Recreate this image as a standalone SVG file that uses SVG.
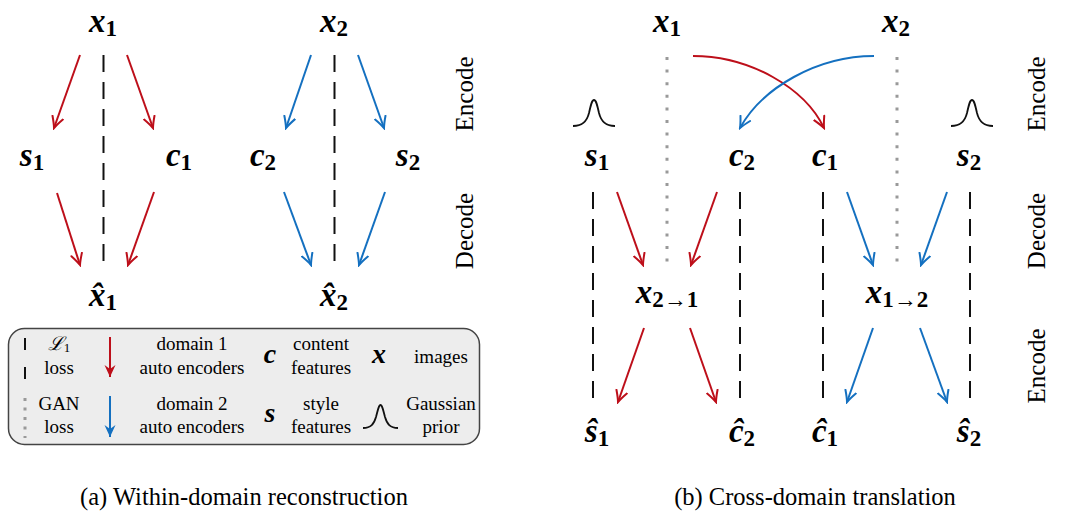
<svg xmlns="http://www.w3.org/2000/svg" width="1065" height="521" viewBox="0 0 1065 521">
<style>
text { font-family: "Liberation Serif", "DejaVu Serif", serif; fill: #000; }
.m { font-style: italic; font-weight: bold; font-size: 33px; text-anchor: middle; }
.sub { font-style: normal; font-size: 23px; }
.lbl { font-size: 25px; text-anchor: middle; }
.leg { font-size: 19px; text-anchor: middle; }
.legm { font-style: italic; font-weight: bold; font-size: 28px; text-anchor: middle; }
.cap { font-size: 24.5px; text-anchor: middle; }
.red { stroke: #bd0f1a; stroke-width: 2; fill: none; }
.blue { stroke: #1470c0; stroke-width: 2; fill: none; }
.dash { stroke: #111; stroke-width: 2; stroke-dasharray: 17 10; fill: none; }
.dot { stroke: #999; stroke-width: 3; stroke-dasharray: 3 9.6; fill: none; }
.gauss { stroke: #111; stroke-width: 1.8; fill: none; }
</style>
<defs>
<marker id="ar" markerUnits="userSpaceOnUse" markerWidth="14" markerHeight="14" viewBox="-12 -7 14 14" refX="0" refY="0" orient="auto">
<path d="M-11,-5.5 Q-4,-1.5 0,0 Q-4,1.5 -11,5.5" stroke="#bd0f1a" stroke-width="2" fill="none" stroke-linecap="round"/>
</marker>
<marker id="ab" markerUnits="userSpaceOnUse" markerWidth="14" markerHeight="14" viewBox="-12 -7 14 14" refX="0" refY="0" orient="auto">
<path d="M-11,-5.5 Q-4,-1.5 0,0 Q-4,1.5 -11,5.5" stroke="#1470c0" stroke-width="2" fill="none" stroke-linecap="round"/>
</marker>
<marker id="sr" markerUnits="userSpaceOnUse" markerWidth="14" markerHeight="14" viewBox="-12 -7 14 14" refX="0" refY="0" orient="auto">
<path d="M0,0 L-12,-5.5 L-8,0 L-12,5.5 Z" fill="#bd0f1a"/>
</marker>
<marker id="sb" markerUnits="userSpaceOnUse" markerWidth="14" markerHeight="14" viewBox="-12 -7 14 14" refX="0" refY="0" orient="auto">
<path d="M0,0 L-12,-5.5 L-8,0 L-12,5.5 Z" fill="#1470c0"/>
</marker>
</defs>

<!-- Panel (a) -->
<g id="connectors-a">
<line class="dash" x1="103.5" y1="55" x2="103.5" y2="265"/>
<line class="dash" x1="334.5" y1="55" x2="334.5" y2="265"/>
<line class="red" x1="80" y1="55" x2="54" y2="128" marker-end="url(#ar)"/>
<line class="red" x1="127" y1="55" x2="153" y2="128" marker-end="url(#ar)"/>
<line class="red" x1="57" y1="193" x2="80" y2="265" marker-end="url(#ar)"/>
<line class="red" x1="154" y1="192" x2="128" y2="265" marker-end="url(#ar)"/>
<line class="blue" x1="311" y1="55" x2="286" y2="128" marker-end="url(#ab)"/>
<line class="blue" x1="358" y1="55" x2="384" y2="128" marker-end="url(#ab)"/>
<line class="blue" x1="284" y1="192" x2="311" y2="265" marker-end="url(#ab)"/>
<line class="blue" x1="385" y1="192" x2="359" y2="265" marker-end="url(#ab)"/>
</g>
<g id="a-x1"><text class="m" x="103" y="32">x<tspan class="sub" dy="4">1</tspan></text></g>
<g id="a-x2"><text class="m" x="334" y="32">x<tspan class="sub" dy="4">2</tspan></text></g>
<g id="a-s1"><text class="m" x="32" y="166">s<tspan class="sub" dy="4">1</tspan></text></g>
<g id="a-c1"><text class="m" x="179" y="166">c<tspan class="sub" dy="4">1</tspan></text></g>
<g id="a-c2"><text class="m" x="263" y="166">c<tspan class="sub" dy="4">2</tspan></text></g>
<g id="a-s2"><text class="m" x="408" y="166">s<tspan class="sub" dy="4">2</tspan></text></g>
<g id="a-xh1"><text class="m" x="103" y="306">x̂<tspan class="sub" dy="4">1</tspan></text></g>
<g id="a-xh2"><text class="m" x="334" y="306">x̂<tspan class="sub" dy="4">2</tspan></text></g>
<g id="a-encode"><text class="lbl" transform="translate(473,94) rotate(-90)">Encode</text></g>
<g id="a-decode"><text class="lbl" transform="translate(473,231) rotate(-90)">Decode</text></g>

<!-- Legend -->
<g id="legend">
<rect x="8.5" y="328.5" width="471" height="116" rx="16" ry="16" fill="#ededed" stroke="#444" stroke-width="1.5"/>
<line x1="25" y1="338" x2="25" y2="350" stroke="#111" stroke-width="2"/>
<line x1="25" y1="367" x2="25" y2="379" stroke="#111" stroke-width="2"/>
<line x1="25" y1="398" x2="25" y2="438" stroke="#999" stroke-width="3" stroke-dasharray="3 6.5"/>
<line x1="110" y1="337" x2="110" y2="377" stroke="#bd0f1a" stroke-width="2" marker-end="url(#sr)"/>
<line x1="110" y1="396" x2="110" y2="437" stroke="#1470c0" stroke-width="2" marker-end="url(#sb)"/>
<path class="gauss" d="M363,428 C371,428 374,424 376,417 C378,409 379,405 380.5,405 C382,405 383,409 385,417 C387,424 390,428 398,428"/>
<text class="leg" x="59" y="350" font-size="17" font-style="italic">ℒ<tspan font-style="normal" font-size="13" dy="2">1</tspan></text>
<text class="leg" x="59" y="374">loss</text>
<text class="leg" x="59" y="410">GAN</text>
<text class="leg" x="59" y="433">loss</text>
<text class="leg" x="192" y="350">domain 1</text>
<text class="leg" x="192" y="374">auto encoders</text>
<text class="leg" x="192" y="410">domain 2</text>
<text class="leg" x="192" y="433">auto encoders</text>
<text class="legm" x="270" y="363">c</text>
<text class="legm" x="270" y="422">s</text>
<text class="leg" x="321" y="350">content</text>
<text class="leg" x="321" y="374">features</text>
<text class="leg" x="321" y="410">style</text>
<text class="leg" x="321" y="433">features</text>
<text class="legm" x="379" y="363">x</text>
<text class="leg" x="441" y="363">images</text>
<text class="leg" x="441" y="410">Gaussian</text>
<text class="leg" x="441" y="433">prior</text>
</g>
<g id="caption-a"><text class="cap" x="244" y="505">(a) Within-domain reconstruction</text></g>

<!-- Panel (b) -->
<g id="connectors-b">
<line class="dot" x1="667" y1="57" x2="667" y2="262"/>
<line class="dot" x1="897" y1="57" x2="897" y2="262"/>
<line class="dash" x1="593" y1="192" x2="593" y2="402"/>
<line class="dash" x1="740" y1="192" x2="740" y2="402"/>
<line class="dash" x1="823" y1="192" x2="823" y2="402"/>
<line class="dash" x1="970" y1="192" x2="970" y2="402"/>
<path class="red" d="M693,56 C750,56 805,88 824,128" marker-end="url(#ar)"/>
<path class="blue" d="M874,56 C817,56 762,88 740,128" marker-end="url(#ab)"/>
<line class="red" x1="617" y1="192" x2="643" y2="265" marker-end="url(#ar)"/>
<line class="red" x1="717" y1="192" x2="691" y2="265" marker-end="url(#ar)"/>
<line class="blue" x1="847" y1="192" x2="873" y2="265" marker-end="url(#ab)"/>
<line class="blue" x1="947" y1="192" x2="921" y2="265" marker-end="url(#ab)"/>
<line class="red" x1="644" y1="328" x2="618" y2="402" marker-end="url(#ar)"/>
<line class="red" x1="690" y1="328" x2="716" y2="402" marker-end="url(#ar)"/>
<line class="blue" x1="873" y1="328" x2="847" y2="402" marker-end="url(#ab)"/>
<line class="blue" x1="920" y1="328" x2="947" y2="402" marker-end="url(#ab)"/>
</g>
<g id="b-gauss1"><path class="gauss" d="M573,126 C583,126 587,121 589,113 C591,104 592,100 594,100 C596,100 597,104 599,113 C601,121 605,126 615,126"/></g>
<g id="b-gauss2"><path class="gauss" d="M951,126 C961,126 965,121 967,113 C969,104 970,100 972,100 C974,100 975,104 977,113 C979,121 983,126 993,126"/></g>
<g id="b-x1"><text class="m" x="667" y="32">x<tspan class="sub" dy="4">1</tspan></text></g>
<g id="b-x2"><text class="m" x="896" y="32">x<tspan class="sub" dy="4">2</tspan></text></g>
<g id="b-s1"><text class="m" x="597" y="166">s<tspan class="sub" dy="4">1</tspan></text></g>
<g id="b-c2"><text class="m" x="742" y="166">c<tspan class="sub" dy="4">2</tspan></text></g>
<g id="b-c1"><text class="m" x="825" y="166">c<tspan class="sub" dy="4">1</tspan></text></g>
<g id="b-s2"><text class="m" x="969" y="166">s<tspan class="sub" dy="4">2</tspan></text></g>
<g id="b-x21"><text class="m" x="667" y="303">x<tspan class="sub" dy="4">2→1</tspan></text></g>
<g id="b-x12"><text class="m" x="897" y="303">x<tspan class="sub" dy="4">1→2</tspan></text></g>
<g id="b-sh1"><text class="m" x="597" y="442">ŝ<tspan class="sub" dy="4">1</tspan></text></g>
<g id="b-ch2"><text class="m" x="742" y="442">ĉ<tspan class="sub" dy="4">2</tspan></text></g>
<g id="b-ch1"><text class="m" x="825" y="442">ĉ<tspan class="sub" dy="4">1</tspan></text></g>
<g id="b-sh2"><text class="m" x="969" y="442">ŝ<tspan class="sub" dy="4">2</tspan></text></g>
<g id="b-encode1"><text class="lbl" transform="translate(1045,94) rotate(-90)">Encode</text></g>
<g id="b-decode"><text class="lbl" transform="translate(1045,231) rotate(-90)">Decode</text></g>
<g id="b-encode2"><text class="lbl" transform="translate(1045,366) rotate(-90)">Encode</text></g>
<g id="caption-b"><text class="cap" x="815" y="505">(b) Cross-domain translation</text></g>
</svg>
